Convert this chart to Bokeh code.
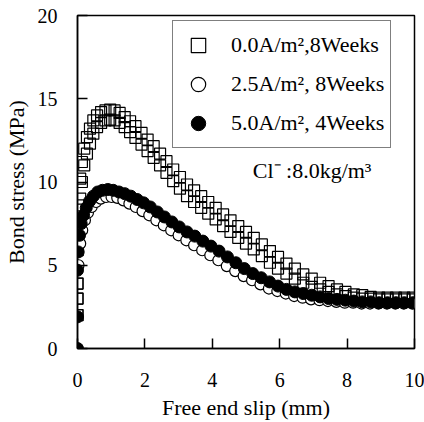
from bokeh.plotting import figure
from bokeh.models import Range1d, FixedTicker, Legend, LegendItem, Label
from bokeh.embed import file_html
from bokeh.resources import INLINE

# ---- data ----
sq_x = [0, 0, 0, 0, 0.03, 0.08, 0.13, 0.2, 0.28, 0.37, 0.47, 0.58, 0.7, 0.83, 0.97, 1.1, 1.25, 1.4,
        1.56, 1.72, 1.9, 2.08, 2.26, 2.45, 2.64, 2.84, 3.04, 3.25, 3.46, 3.67, 3.88, 4.1, 4.32, 4.54,
        4.77, 5.0, 5.23, 5.47, 5.71, 5.95, 6.2, 6.45, 6.7, 6.95, 7.2, 7.45, 7.7, 7.95, 8.2, 8.45, 8.7,
        8.95, 9.2, 9.45, 9.7, 9.95]
sq_y_upper = [2.0, 3.0, 3.9, 5.9, 8.6, 10.2, 11.2, 12.0, 12.7, 13.2, 13.7, 14.0, 14.2, 14.3, 14.35, 14.3,
              14.15, 13.9, 13.65, 13.35, 12.95, 12.55, 12.15, 11.7, 11.25, 10.75, 10.3, 9.85, 9.5, 9.15,
              8.8, 8.45, 8.05, 7.7, 7.35, 7.0, 6.65, 6.25, 5.85, 5.5, 5.1, 4.8, 4.45, 4.2, 3.95, 3.75,
              3.55, 3.4, 3.25, 3.2, 3.1, 3.05, 3.05, 3.05, 3.05, 3.05]
sq_y_lower = [2.0, 3.0, 3.9, 5.9, 7.4, 9.0, 10.0, 11.0, 11.7, 12.3, 12.9, 13.3, 13.55, 13.7, 13.75, 13.7,
              13.55, 13.3, 13.0, 12.65, 12.25, 11.85, 11.45, 11.0, 10.55, 10.05, 9.6, 9.15, 8.8, 8.45,
              8.1, 7.75, 7.35, 7.0, 6.65, 6.3, 5.95, 5.55, 5.15, 4.8, 4.5, 4.2, 3.95, 3.7, 3.55, 3.4,
              3.25, 3.15, 3.05, 3.0, 3.0, 2.95, 2.95, 2.95, 2.95, 2.95]

oc_x = [0.03, 0.08, 0.14, 0.22, 0.31, 0.42, 0.55, 0.69, 0.85, 1.01, 1.18, 1.36, 1.54, 1.73, 1.93, 2.13,
        2.34, 2.56, 2.78, 3.0, 3.23, 3.46, 3.7, 3.94, 4.18, 4.43, 4.68, 4.93, 5.18, 5.43, 5.68, 5.93,
        6.18, 6.43, 6.68, 6.93, 7.18, 7.43, 7.68, 7.93, 8.18, 8.43, 8.68, 8.93, 9.18, 9.43, 9.68, 9.93]
oc_y = [5.0, 6.3, 7.1, 7.7, 8.15, 8.5, 8.8, 9.0, 9.1, 9.1, 9.05, 8.9, 8.7, 8.5, 8.25, 8.0,
        7.7, 7.4, 7.1, 6.8, 6.5, 6.2, 5.9, 5.6, 5.3, 4.95, 4.65, 4.35, 4.1, 3.85, 3.6, 3.45,
        3.3, 3.15, 3.05, 2.95, 2.9, 2.85, 2.8, 2.75, 2.75, 2.7, 2.7, 2.7, 2.7, 2.7, 2.7, 2.7]

fc_x = [0, 0, 0, 0.02, 0.06, 0.11, 0.18, 0.26, 0.36, 0.47, 0.6, 0.74, 0.9, 1.06, 1.23, 1.4, 1.58, 1.77,
        1.96, 2.16, 2.37, 2.58, 2.8, 3.02, 3.25, 3.48, 3.72, 3.96, 4.2, 4.45, 4.7, 4.95, 5.2, 5.45,
        5.7, 5.95, 6.2, 6.45, 6.7, 6.95, 7.2, 7.45, 7.7, 7.95, 8.2, 8.45, 8.7, 8.95, 9.2, 9.45, 9.7, 9.95]
fc_y = [0.0, 1.9, 4.7, 5.8, 6.8, 7.5, 8.0, 8.45, 8.85, 9.15, 9.4, 9.5, 9.55, 9.5, 9.4, 9.3, 9.15, 8.95,
        8.75, 8.5, 8.2, 7.9, 7.6, 7.3, 7.0, 6.75, 6.45, 6.15, 5.85, 5.5, 5.15, 4.8, 4.5, 4.25,
        4.0, 3.75, 3.55, 3.4, 3.3, 3.2, 3.1, 3.0, 2.95, 2.9, 2.85, 2.8, 2.8, 2.75, 2.75, 2.75, 2.75, 2.75]

labels = ["0.0A/m\u00b2,8Weeks", "2.5A/m\u00b2, 8Weeks", "5.0A/m\u00b2, 4Weeks"]
x_ticks = [0, 2, 4, 6, 8, 10]
y_ticks = [0, 5, 10, 15, 20]
note_text = "Cl\u207b :8.0kg/m\u00b3"
note_x, note_y = 5.2, 10.7

FONT = "Liberation Serif"

p = figure(width=424, height=422, output_backend="svg", toolbar_location=None,
           x_range=Range1d(0, 10), y_range=Range1d(0, 20),
           min_border_left=77, min_border_right=10, min_border_top=15, min_border_bottom=74)
p.background_fill_color = "white"
p.border_fill_color = "white"
p.grid.visible = False
p.outline_line_color = "black"
p.outline_line_width = 1.5

for ax in (p.xaxis[0], p.yaxis[0]):
    ax.axis_line_width = 1.5
    ax.major_tick_line_width = 1.5
    ax.major_tick_in = 10
    ax.major_tick_out = 0
    ax.minor_tick_in = 0
    ax.minor_tick_out = 0
    ax.major_label_text_font = FONT
    ax.major_label_text_font_size = "20px"
    ax.major_label_text_color = "black"
    ax.axis_label_text_font = FONT
    ax.axis_label_text_font_size = "22px"
    ax.axis_label_text_font_style = "normal"
    ax.axis_label_text_color = "black"

p.xaxis.ticker = FixedTicker(ticks=x_ticks)
p.yaxis.ticker = FixedTicker(ticks=y_ticks)
p.xaxis.axis_label = "Free end slip (mm)"
p.yaxis.axis_label = "Bond stress (MPa)"
p.xaxis.major_label_standoff = 24
p.xaxis.axis_label_standoff = 5
p.yaxis.major_label_standoff = 20
p.yaxis.axis_label_standoff = 6

r_sq1 = p.scatter(sq_x, sq_y_upper, marker="square", size=11, fill_alpha=0,
                  line_color="black", line_width=1.2)
r_sq2 = p.scatter(sq_x, sq_y_lower, marker="square", size=11, fill_alpha=0,
                  line_color="black", line_width=1.2)
r_oc = p.scatter(oc_x, oc_y, marker="circle", size=11, fill_color="white",
                 line_color="black", line_width=1.2)
r_fc = p.scatter(fc_x, fc_y, marker="circle", size=12, fill_color="black",
                 line_color="black", line_width=1)

legend = Legend(items=[LegendItem(label=labels[0], renderers=[r_sq1]),
                       LegendItem(label=labels[1], renderers=[r_oc]),
                       LegendItem(label=labels[2], renderers=[r_fc])],
                location=(95, 200))
legend.label_text_font = FONT
legend.label_text_font_size = "22px"
legend.label_text_color = "black"
legend.glyph_width = 38
legend.glyph_height = 36
legend.spacing = 3
legend.padding = 6
legend.margin = 0
legend.label_standoff = 14
legend.border_line_color = "black"
legend.border_line_width = 1.5
legend.background_fill_alpha = 1
p.add_layout(legend, "center")

p.add_layout(Label(x=note_x, y=note_y, text=note_text, text_font=FONT,
                   text_font_size="22px", text_baseline="middle", text_color="black"))

open("out.html", "w").write(file_html(p, INLINE))
